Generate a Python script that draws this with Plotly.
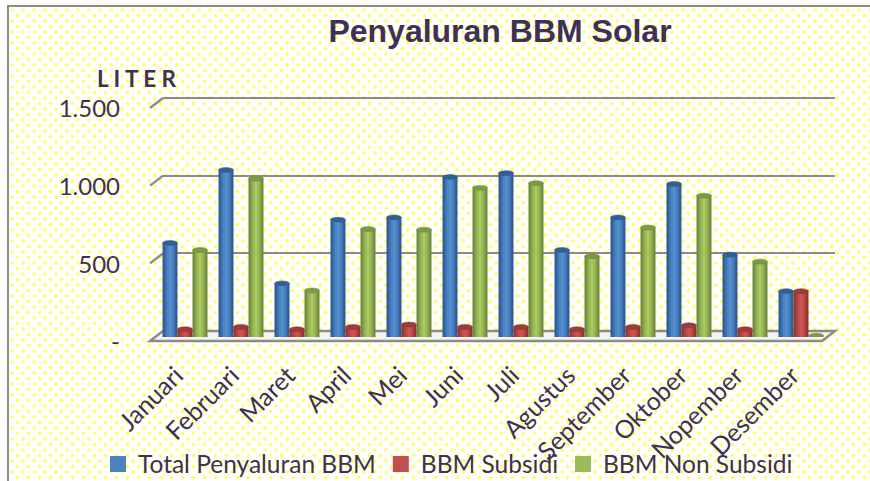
import base64
import plotly.graph_objects as go

W, H = 870, 481
months = ["Januari", "Februari", "Maret", "April", "Mei", "Juni", "Juli", "Agustus",
          "September", "Oktober", "Nopember", "Desember"]
total_bbm = [605, 1075, 345, 755, 770, 1030, 1055, 560, 770, 985, 530, 295]
bbm_subsidi = [50, 65, 50, 65, 80, 65, 65, 50, 65, 75, 50, 295]
bbm_non_subsidi = [560, 1020, 300, 695, 690, 960, 990, 520, 705, 910, 485, 8]
y_ticks = [0, 500, 1000, 1500]
y_tick_labels = ["-", "500", "1.000", "1.500"]

series = [
    ("Total Penyaluran BBM", total_bbm, "#4f81bd",
     ["#2f5c91", "#3f72ae", "#4c84c4", "#5590d2", "#4c84c4", "#3f72ae", "#2f5c91"], "#345f93"),
    ("BBM Subsidi", bbm_subsidi, "#c0504d",
     ["#8f3431", "#ad4340", "#c24e4b", "#cc5552", "#c24e4b", "#ad4340", "#8f3431"], "#9c3b38"),
    ("BBM Non Subsidi", bbm_non_subsidi, "#9bbb59",
     ["#71893c", "#8ba64c", "#9dbd59", "#a8c862", "#9dbd59", "#8ba64c", "#71893c"], "#7d9a42"),
]
INK = "#3f3151"
GRID = "#8c8c84"
FONT = "Lato"


def px(x):
    return x / W


def py(y):
    return 1 - y / H


# dotted page background
svg = (f'<svg xmlns="http://www.w3.org/2000/svg" width="{W}" height="{H}">'
       '<defs><pattern id="d" width="11" height="11" patternUnits="userSpaceOnUse" x="4" y="2">'
       '<rect width="11" height="11" fill="#ffffff"/>'
       '<circle cx="2.5" cy="2.5" r="1.7" fill="#ffff55"/><circle cx="8" cy="8" r="1.7" fill="#ffff55"/>'
       '</pattern></defs>'
       f'<rect width="{W}" height="{H}" fill="white"/>'
       f'<rect x="8" y="6" width="{W}" height="{H}" fill="url(#d)"/></svg>')
bg = "data:image/svg+xml;base64," + base64.b64encode(svg.encode()).decode()

fig = go.Figure()
# back-plane subplot that carries the gridlines
fig.add_trace(go.Scatter(x=[0], y=[0], xaxis="x", yaxis="y", mode="markers",
                         marker=dict(opacity=0), showlegend=False, hoverinfo="skip"))
# front-plane axis carrying the value labels
fig.add_trace(go.Scatter(x=[0], y=[0], xaxis="x", yaxis="y3", mode="markers",
                         marker=dict(opacity=0), showlegend=False, hoverinfo="skip"))

BAR_W = 15 / 56
N = 7
strip = BAR_W / N
shapes = []
CAP = 32
for s, (name, vals, col, shades, capcol) in enumerate(series):
    start = -1.5 * BAR_W + s * BAR_W
    for k, shade in enumerate(shades):
        fig.add_trace(go.Bar(x=months, y=vals, xaxis="x2", yaxis="y2", offset=start + k * strip,
                             width=strip * 1.6 if k < N - 1 else strip,
                             marker=dict(color=shade, line=dict(width=0)),
                             showlegend=False, hoverinfo="skip"))
    for i, v in enumerate(vals):
        x0, x1 = i + start, i + start + BAR_W
        shapes.append(dict(type="circle", xref="x2", yref="y2", x0=x0, x1=x1, y0=-CAP / 2, y1=CAP / 2,
                           fillcolor=shades[2], line=dict(width=0), layer="between"))
        shapes.append(dict(type="circle", xref="x2", yref="y2", x0=x0, x1=x1, y0=v - CAP / 2, y1=v + CAP / 2,
                           fillcolor=capcol, line=dict(width=0.5, color=shades[0])))
    fig.add_trace(go.Scatter(x=[None], y=[None], xaxis="x2", yaxis="y2", mode="markers", name=name,
                             marker=dict(symbol="square", size=16, color=col)))

# outer frame, floor, slanted tick stubs
shapes.insert(0, dict(type="rect", xref="paper", yref="paper", x0=px(8), x1=px(880), y0=py(6), y1=py(490),
                      line=dict(color=GRID, width=2), layer="below"))
shapes.insert(1, dict(type="path", xref="paper", yref="paper", layer="below",
                      path=f"M{px(150)},{py(341)} L{px(163)},{py(331)} L{px(835)},{py(331)} "
                           f"L{px(822)},{py(341)} Z",
                      fillcolor="#f4f4f0", line=dict(color=GRID, width=2.4)))
for v in y_ticks[1:]:
    back = 331 - v * 233 / 1500
    shapes.append(dict(type="line", xref="paper", yref="paper", layer="below",
                       x0=px(150), x1=px(163), y0=py(back + 10), y1=py(back),
                       line=dict(color=GRID, width=2.4)))

fig.update_layout(
    width=W, height=H, autosize=False, margin=dict(l=0, r=0, t=0, b=0, autoexpand=False),
    paper_bgcolor="white", plot_bgcolor="rgba(0,0,0,0)",
    barmode="overlay", shapes=shapes,
    images=[dict(source=bg, xref="paper", yref="paper", x=0, y=1, sizex=1, sizey=1,
                 sizing="stretch", xanchor="left", yanchor="top", layer="below")],
    font=dict(family=FONT, color=INK, size=22),
    title=dict(text="<b>Penyaluran BBM Solar</b>", x=px(500), y=py(31), xanchor="center", yanchor="middle",
               font=dict(family="Liberation Sans", size=32, color=INK)),
    xaxis=dict(domain=[px(163), px(835)], range=[0, 1], visible=False, fixedrange=True),
    yaxis=dict(domain=[py(331), py(51.4)], range=[0, 1800], tickvals=y_ticks, showticklabels=False,
               showgrid=True, gridcolor=GRID, gridwidth=2.4, zeroline=False, showline=False, ticks=""),
    yaxis3=dict(domain=[py(342), py(109)], range=[0, 1500], anchor="free", position=px(150),
                tickvals=y_ticks, ticktext=y_tick_labels, showgrid=False, zeroline=False, showline=False,
                ticks="", ticklabelstandoff=30, tickfont=dict(size=24, color=INK, family=FONT)),
    xaxis2=dict(domain=[px(157), px(829)], range=[-0.5, 11.5], type="category", categoryorder="array",
                categoryarray=months, anchor="y2", tickangle=-45, showgrid=False, showline=False,
                zeroline=False, ticks="", ticklabelstandoff=18, ticklabelshift=-9,
                tickfont=dict(size=25, color=INK, family=FONT)),
    yaxis2=dict(domain=[py(337), py(104)], range=[0, 1500], visible=False, anchor="x2"),
    legend=dict(orientation="h", x=px(98), y=py(464), xanchor="left", yanchor="middle",
                bgcolor="rgba(0,0,0,0)", font=dict(size=24.5, color=INK, family=FONT), itemsizing="trace"),
    annotations=[dict(text="<b>L I T E R</b>", xref="paper", yref="paper", x=px(137), y=py(78),
                      xanchor="center", yanchor="middle", showarrow=False,
                      font=dict(size=22.5, color=INK, family=FONT))],
)
fig.write_html("out.html", post_script="document.body.style.margin='0';document.body.style.overflow='hidden';",
               config={"displayModeBar": False})
